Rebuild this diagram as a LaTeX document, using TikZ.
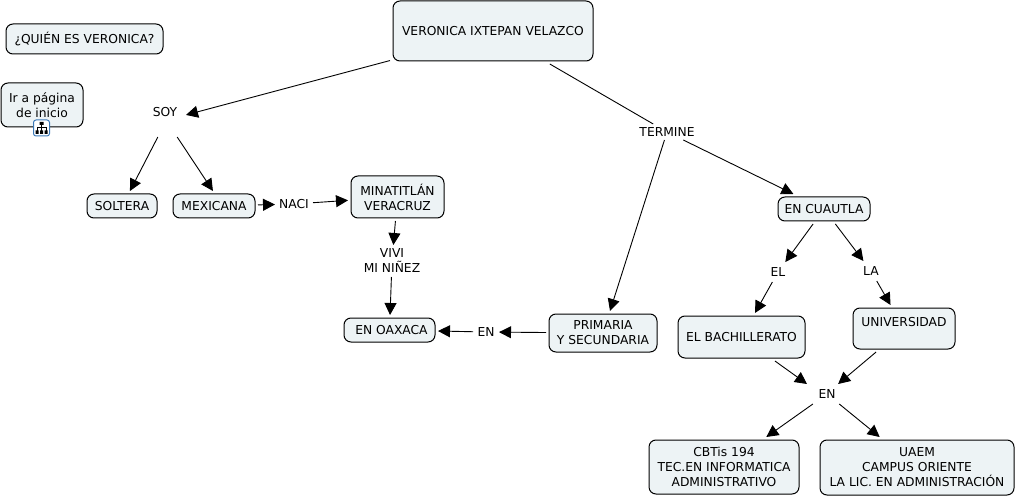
\documentclass[tikz,border=0pt]{standalone}
\usepackage{fontspec}
\setmainfont{DejaVu Sans}
\usetikzlibrary{arrows.meta}
\definecolor{boxfill}{HTML}{EDF3F5}
\definecolor{iconblue}{HTML}{3A78B8}
\tikzset{
  concept/.style={draw,rounded corners=7pt,fill=boxfill,line width=1pt,align=center,inner sep=0pt,outer sep=3pt},
  linker/.style={align=center,inner sep=0pt,outer sep=0pt},
  plainlink/.style={line width=0.9pt},
  link/.style={plainlink,-{Triangle[length=12pt,width=12pt]}}
}
\begin{document}
\begin{tikzpicture}[x=1pt,y=-1pt,font=\fontsize{12.3}{15}\selectfont]
  \useasboundingbox (0,0) rectangle (1017,497);
  \node[concept,minimum width=200pt,minimum height=60pt] (top)  at (493,31)    {VERONICA IXTEPAN VELAZCO};
  \node[concept,minimum width=157pt,minimum height=30pt] (quien) at (84.5,39)  {¿QUIÉN ES VERONICA?};
  \node[concept,minimum width=82pt,minimum height=44pt]  (inicio) at (42,105)  {Ir a página\\de inicio};
  \node[concept,minimum width=70pt,minimum height=24pt]  (soltera) at (122,206) {SOLTERA};
  \node[concept,minimum width=82pt,minimum height=24pt]  (mexicana) at (214,206) {MEXICANA};
  \node[concept,minimum width=93pt,minimum height=42pt]  (minatitlan) at (397.5,197) {MINATITLÁN\\VERACRUZ};
  \node[concept,minimum width=91pt,minimum height=24pt]  (oaxaca) at (389.5,330) {\ EN OAXACA};
  \node[concept,minimum width=108pt,minimum height=38pt] (primaria) at (603,333) {PRIMARIA\\Y SECUNDARIA};
  \node[concept,minimum width=92pt,minimum height=24pt]  (cuautla) at (824,209) {EN CUAUTLA};
  \node[concept,minimum width=127pt,minimum height=42pt] (bachillerato) at (741.5,337) {EL BACHILLERATO};
  \node[concept,minimum width=102pt,minimum height=41pt,text depth=13pt] (universidad) at (904,328.5) {UNIVERSIDAD};
  \node[concept,minimum width=150pt,minimum height=54pt] (cbtis) at (724,467) {CBTis 194\\TEC.EN INFORMATICA\\ADMINISTRATIVO};
  \node[concept,minimum width=194pt,minimum height=55pt] (uaem) at (917,467.5) {UAEM\\CAMPUS ORIENTE\\LA LIC. EN ADMINISTRACIÓN};

  \node[linker,minimum width=42pt,minimum height=50pt] (soy) at (165,112) {SOY};
  \node[linker,minimum width=38pt,minimum height=20pt] (naci) at (294,204) {NACI};
  \node[linker,minimum width=70pt,minimum height=32pt] (vivi) at (392,261) {VIVI\\MI NIÑEZ};
  \node[linker,minimum width=26pt,minimum height=20pt] (enoax) at (486,332) {EN};
  \node[linker,minimum width=70pt,minimum height=16pt] (termine) at (667,132) {TERMINE};
  \node[linker,minimum width=20pt,minimum height=20pt] (el) at (778,272) {EL};
  \node[linker,minimum width=20pt,minimum height=20pt] (la) at (871,271) {LA};
  \node[linker,minimum width=40pt,minimum height=20pt] (enuni) at (827,394) {EN};

  % boton de la pagina de inicio
  \node[draw=iconblue,fill=white,rounded corners=2.5pt,line width=1pt,minimum size=16pt,inner sep=0pt] (icono) at (41.5,128) {};
  \draw[line width=0.7pt] (41.5,124.5) -- (41.5,127) (37,131) -- (37,127) -- (46,127) -- (46,131) (41.5,127) -- (41.5,131);
  \fill (39.5,122) rectangle (43.5,125) (35.5,130.5) rectangle (38.5,134) (40,130.5) rectangle (43,134) (44.5,130.5) rectangle (47.5,134);

  \draw[link] (top.196) -- (soy.-8);
  \draw[link] (soy.254) -- (soltera.62);
  \draw[link] (soy.-64) -- (mexicana.94);
  \draw[link] (mexicana) -- (naci);
  \draw[link] (naci) -- (minatitlan);
  \draw[link] (minatitlan) -- (vivi);
  \draw[link] (vivi) -- (oaxaca);
  \draw[link] (primaria) -- (enoax);
  \draw[link] (enoax) -- (oaxaca);
  \draw[plainlink] (top) -- (termine);
  \draw[link] (termine) -- (primaria);
  \draw[link] (termine) -- (cuautla);
  \draw[link] (cuautla) -- (el);
  \draw[link] (el) -- (bachillerato);
  \draw[link] (cuautla) -- (la);
  \draw[link] (la) -- (universidad);
  \draw[link] (bachillerato) -- (enuni.north west);
  \draw[link] (universidad) -- (enuni.42);
  \draw[link] (enuni) -- (cbtis);
  \draw[link] (enuni) -- (uaem);
\end{tikzpicture}
\end{document}
